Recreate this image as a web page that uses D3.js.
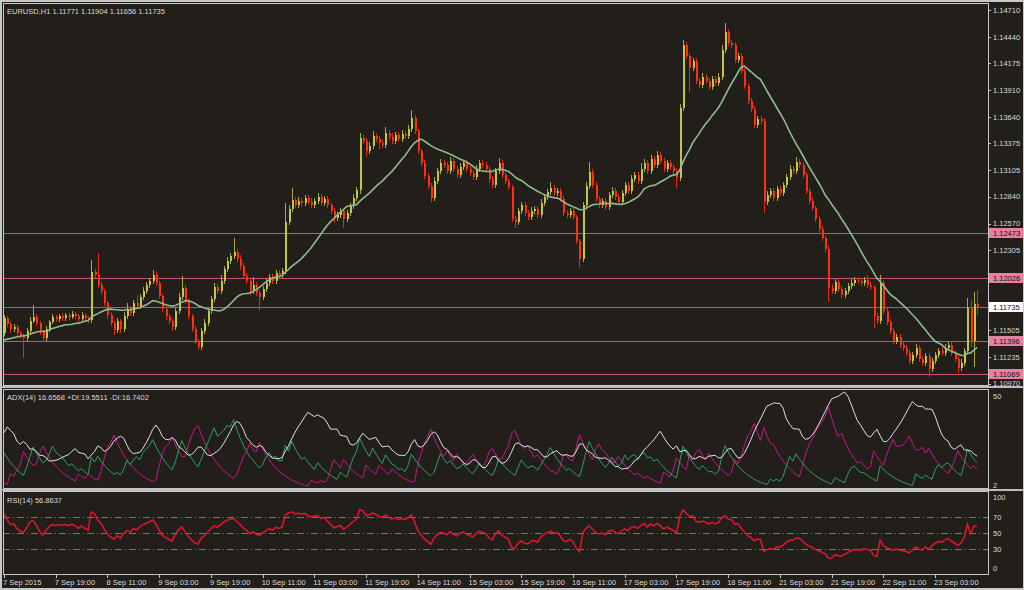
<!DOCTYPE html>
<html>
<head>
<meta charset="utf-8">
<script src="https://cdnjs.cloudflare.com/ajax/libs/d3/7.8.5/d3.min.js"></script>
<style>
  body { margin: 0; background: #c8c8c8; }
  svg { display: block; }
  text { font-family: "Liberation Sans", Arial, sans-serif; font-size: 7.5px; fill: #dadada; }
</style>
</head>
<body>
<div id="chart"></div>
<script>
// prices are kept in pips above 1.1000 (163 -> 1.1163)
// bars before 7 Sep, only needed so the MA / RSI / ADX are warmed up
var priorClose = [128, 131, 127, 124, 129, 133, 130, 134, 138, 135, 132, 136, 139, 137, 134,
  131, 135, 138, 142, 140, 137, 139, 143, 141, 138, 136, 140, 144, 147, 148];
var priorUp = [3, 2, 3, 2, 3, 3, 2, 3, 4, 2, 3, 3, 2, 3, 2, 3, 3, 4, 3, 2, 3, 3, 4, 2, 3, 3, 3, 4, 3, 3];
var priorDown = [2, 3, 3, 3, 2, 3, 3, 2, 3, 3, 3, 2, 3, 3, 3, 3, 2, 3, 3, 3, 3, 2, 3, 3, 3, 2, 3, 3, 3, 3];

// EURUSD H1 closes, 7 Sep 00:00 onwards (open = previous close)
var closes = [
  163, 157, 152, 154, 148, 145, 143, 150, 160, 164,
  158, 149, 143, 152, 159, 164, 162, 165, 163, 166,
  164, 167, 165, 162, 166, 163, 161, 209, 206, 196,
  190, 178, 166, 158, 151, 160, 152, 165, 172, 168,
  178, 175, 184, 190, 196, 200, 206, 198, 185, 172,
  165, 160, 154, 170, 184, 193, 180, 165, 152, 140,
  134, 150, 158, 170, 182, 194, 190, 200, 212, 220,
  225, 229, 222, 215, 205, 200, 190, 196, 188, 184,
  192, 198, 204, 200, 208, 206, 210, 259, 272, 281,
  276, 280, 278, 283, 279, 276, 280, 284, 278, 282,
  276, 270, 263, 266, 270, 262, 268, 275, 283, 291,
  343, 340, 330, 335, 345, 342, 338, 336, 348, 344,
  340, 346, 342, 347, 345, 352, 363, 350, 330, 318,
  305, 295, 283, 300, 310, 318, 316, 310, 320, 312,
  306, 314, 318, 312, 308, 304, 312, 318, 316, 312,
  302, 296, 310, 318, 306, 300, 294, 262, 259, 270,
  276, 268, 264, 270, 272, 266, 278, 284, 289, 293,
  288, 290, 282, 268, 266, 270, 264, 240, 222, 276,
  295, 309, 296, 282, 276, 280, 274, 286, 290, 284,
  279, 288, 296, 290, 302, 306, 300, 312, 318, 310,
  322, 316, 326, 320, 312, 318, 314, 310, 303, 373,
  436, 425, 413, 420, 400, 396, 404, 400, 394, 402,
  398, 404, 431, 449, 438, 436, 421, 425, 410, 395,
  380, 372, 356, 362, 360, 279, 286, 290, 283, 292,
  288, 296, 304, 312, 310, 319, 316, 306, 290, 280,
  273, 262, 252, 243, 232, 193, 190, 199, 192, 186,
  190, 195, 198, 201, 200, 198, 201, 196, 194, 165,
  160, 198, 170, 159, 150, 140, 144, 136, 133, 128,
  120, 126, 133, 122, 118, 125, 112, 120, 126, 130,
  128, 133, 136, 128, 122, 113, 118, 130, 173, 140,
  177.1, 173.5
];

// wick length above / below the body, pips
var wickUp = [
  3, 2, 2, 3, 2, 2, 2, 3, 4, 12,
  3, 2, 2, 3, 2, 3, 2, 2, 3, 2,
  2, 3, 2, 2, 3, 2, 2, 12, 3, 22,
  3, 2, 2, 3, 2, 3, 2, 4, 6, 3,
  3, 8, 3, 4, 3, 3, 5, 3, 2, 2,
  3, 2, 2, 3, 4, 12, 3, 2, 2, 3,
  2, 3, 4, 3, 3, 4, 3, 6, 3, 4,
  3, 14, 3, 4, 3, 3, 3, 8, 3, 3,
  3, 4, 3, 3, 3, 3, 3, 19, 4, 12,
  3, 4, 3, 3, 3, 4, 3, 4, 3, 3,
  3, 2, 3, 3, 3, 2, 3, 3, 4, 3,
  5, 3, 3, 4, 5, 3, 3, 4, 6, 3,
  4, 3, 3, 4, 3, 4, 8, 3, 2, 2,
  3, 3, 3, 4, 3, 4, 3, 3, 4, 3,
  3, 4, 3, 3, 3, 3, 4, 3, 3, 3,
  3, 3, 3, 5, 3, 3, 2, 2, 3, 3,
  3, 3, 3, 4, 3, 3, 4, 3, 3, 6,
  3, 3, 3, 3, 3, 3, 3, 2, 2, 3,
  4, 10, 3, 3, 3, 3, 3, 3, 4, 3,
  3, 3, 3, 3, 4, 3, 3, 6, 4, 3,
  4, 3, 4, 3, 3, 3, 3, 3, 3, 4,
  5, 3, 3, 3, 3, 3, 4, 3, 3, 3,
  3, 4, 5, 9, 3, 3, 3, 3, 3, 3,
  3, 3, 3, 3, 3, 3, 4, 3, 3, 3,
  3, 3, 3, 4, 3, 5, 3, 3, 3, 3,
  3, 2, 3, 3, 2, 3, 4, 3, 3, 3,
  3, 3, 4, 3, 3, 3, 3, 5, 3, 2,
  3, 8, 3, 3, 3, 3, 3, 3, 3, 3,
  3, 3, 4, 3, 3, 3, 3, 3, 3, 3,
  3, 4, 3, 3, 3, 3, 4, 3, 10, 8,
  12, 13.3
];
var wickDown = [
  3, 3, 4, 3, 3, 3, 20, 3, 3, 2,
  3, 3, 4, 3, 3, 2, 3, 3, 3, 3,
  3, 2, 3, 3, 2, 3, 3, 3, 3, 3,
  3, 3, 4, 3, 5, 3, 4, 3, 3, 3,
  3, 3, 3, 3, 3, 3, 3, 3, 3, 3,
  4, 3, 4, 3, 3, 3, 3, 3, 3, 3,
  3, 3, 3, 3, 3, 3, 3, 3, 3, 3,
  3, 3, 3, 4, 3, 3, 4, 3, 3, 13,
  3, 3, 3, 3, 3, 3, 3, 3, 3, 3,
  3, 3, 4, 3, 3, 3, 3, 3, 3, 3,
  3, 3, 5, 3, 3, 9, 3, 3, 3, 3,
  4, 3, 6, 3, 3, 3, 6, 3, 3, 3,
  3, 3, 3, 3, 3, 3, 3, 3, 3, 3,
  3, 3, 4, 3, 3, 3, 3, 3, 3, 3,
  3, 3, 3, 3, 3, 3, 3, 3, 3, 3,
  4, 3, 3, 3, 3, 3, 3, 3, 6, 3,
  3, 3, 3, 3, 3, 3, 3, 3, 3, 3,
  3, 3, 3, 3, 3, 3, 3, 3, 9, 3,
  3, 3, 3, 3, 3, 3, 3, 3, 3, 3,
  3, 3, 3, 3, 3, 3, 3, 3, 3, 3,
  3, 3, 3, 3, 3, 3, 3, 3, 10, 3,
  3, 3, 24, 3, 3, 3, 3, 3, 3, 3,
  3, 3, 3, 3, 3, 3, 3, 3, 3, 3,
  3, 3, 3, 3, 3, 11, 3, 3, 3, 3,
  3, 3, 3, 3, 3, 3, 3, 3, 3, 3,
  3, 3, 3, 3, 3, 14, 3, 3, 3, 3,
  3, 3, 3, 3, 3, 3, 3, 3, 3, 12,
  3, 3, 3, 3, 3, 3, 3, 3, 3, 3,
  3, 3, 3, 3, 3, 3, 8, 3, 3, 3,
  3, 3, 3, 3, 3, 5, 3, 3, 3, 6,
  26, 7.9
];

// one time label every 16 bars
var timeLabels = ["7 Sep 2015", "7 Sep 19:00", "8 Sep 11:00", "9 Sep 03:00", "9 Sep 19:00",
  "10 Sep 11:00", "11 Sep 03:00", "11 Sep 19:00", "14 Sep 11:00", "15 Sep 03:00",
  "15 Sep 19:00", "16 Sep 11:00", "17 Sep 03:00", "17 Sep 19:00", "18 Sep 11:00",
  "21 Sep 03:00", "21 Sep 19:00", "22 Sep 11:00", "23 Sep 03:00"];

// price ticks (the ones hidden under the level labels are left out)
var priceTicks = [1.14710, 1.14440, 1.14175, 1.13910, 1.13640, 1.13375, 1.13105, 1.12840,
  1.12570, 1.12305, 1.11505, 1.11235, 1.10970];
var levelLines = [1.12473, 1.12026, 1.11396, 1.11069];
var lastPrice = 1.11735;
var rsiLevels = [70, 50, 30];
var rsiTicks = [100, 70, 50, 30, 0];
var adxTicks = [50, 2];

var svgWidth = 1024;
var svgHeight = 590;
var plotLeft = 3;
var plotRight = 988;
var mainPanel = {top: 3, bottom: 385};
var adxPanel = {top: 389, bottom: 488};
var rsiPanel = {top: 491, bottom: 574};

// build OHLC bars from the pip arrays
var allClose = priorClose.concat(closes);
var allUp = priorUp.concat(wickUp);
var allDown = priorDown.concat(wickDown);
var bars = allClose.map(function(c, i) {
  var o = i === 0 ? c : allClose[i - 1];
  return {
    open: 1.1 + o / 10000,
    close: 1.1 + c / 10000,
    high: 1.1 + (Math.max(o, c) + allUp[i]) / 10000,
    low: 1.1 + (Math.min(o, c) - allDown[i]) / 10000
  };
});

// indicators, computed the way the terminal does
function calcSMA(values, n) {
  return values.map(function(v, i) {
    if (i < n - 1) return null;
    return d3.mean(values.slice(i - n + 1, i + 1));
  });
}

function calcRSI(cl, n) {
  var out = cl.map(function() { return null; });
  var gain = 0, loss = 0, ch, i;
  for (i = 1; i <= n; i++) {
    ch = cl[i] - cl[i - 1];
    if (ch > 0) gain += ch; else loss -= ch;
  }
  gain /= n;
  loss /= n;
  out[n] = loss === 0 ? 100 : 100 - 100 / (1 + gain / loss);
  for (i = n + 1; i < cl.length; i++) {
    ch = cl[i] - cl[i - 1];
    gain = (gain * (n - 1) + Math.max(ch, 0)) / n;
    loss = (loss * (n - 1) + Math.max(-ch, 0)) / n;
    out[i] = loss === 0 ? 100 : 100 - 100 / (1 + gain / loss);
  }
  return out;
}

function calcADX(b, n) {
  var k = 2 / (n + 1);
  var pdi = 0, mdi = 0, adx = 0;
  var out = [{adx: 0, pdi: 0, mdi: 0}];
  for (var i = 1; i < b.length; i++) {
    var pdm = Math.max(b[i].high - b[i - 1].high, 0);
    var mdm = Math.max(b[i - 1].low - b[i].low, 0);
    if (Math.abs(pdm - mdm) < 1e-9) { pdm = 0; mdm = 0; }
    else if (pdm < mdm) pdm = 0;
    else mdm = 0;
    var tr = Math.max(b[i].high - b[i].low, Math.abs(b[i].high - b[i - 1].close), Math.abs(b[i].low - b[i - 1].close));
    var p = tr === 0 ? 0 : 100 * pdm / tr;
    var m = tr === 0 ? 0 : 100 * mdm / tr;
    if (i === 1) { pdi = p; mdi = m; }
    else { pdi += k * (p - pdi); mdi += k * (m - mdi); }
    var dx = (pdi + mdi) === 0 ? 0 : 100 * Math.abs(pdi - mdi) / (pdi + mdi);
    adx = i === 1 ? dx : adx + k * (dx - adx);
    out.push({adx: adx, pdi: pdi, mdi: mdi});
  }
  return out;
}

var skip = priorClose.length;
var closePrices = bars.map(function(d) { return d.close; });
var ma = calcSMA(closePrices, 20).slice(skip);
var rsi = calcRSI(closePrices, 14).slice(skip);
var adx = calcADX(bars, 14).slice(skip);
var visible = bars.slice(skip);

// scales
var xScale = d3.scaleLinear()
  .domain([0, closes.length - 1])
  .range([4, 4 + (closes.length - 1) * 3.233]);

var yPrice = d3.scaleLinear()
  .domain([1.10970, 1.14710])
  .range([383.5, 10]);

var adxMin = d3.min(adx, d => Math.min(d.adx, d.pdi, d.mdi));
var adxMax = d3.max(adx, d => Math.max(d.adx, d.pdi, d.mdi));
var yAdx = d3.scaleLinear()
  .domain([adxMin, adxMax])
  .range([adxPanel.bottom - 2, adxPanel.top + 3]);

var yRsi = d3.scaleLinear()
  .domain([0, 100])
  .range([rsiPanel.bottom - 1, rsiPanel.top + 2]);

var svg = d3.select("#chart")
  .append("svg")
  .attr("width", svgWidth)
  .attr("height", svgHeight);

// window background and splitters
svg.append("rect")
  .attr("width", svgWidth)
  .attr("height", svgHeight)
  .attr("fill", "#c8c8c8");
svg.append("rect")
  .attr("x", 2).attr("y", 2)
  .attr("width", svgWidth - 3).attr("height", svgHeight - 4)
  .attr("fill", "#221e19");
[386, 489].forEach(function(y) {
  svg.append("rect")
    .attr("x", 0).attr("y", y)
    .attr("width", svgWidth).attr("height", 2)
    .attr("fill", "#bdbdbd");
});

// clip paths per panel
[["clipMain", mainPanel], ["clipAdx", adxPanel], ["clipRsi", rsiPanel]].forEach(function(c) {
  svg.append("clipPath").attr("id", c[0])
    .append("rect")
    .attr("x", plotLeft + 1).attr("y", c[1].top + 1)
    .attr("width", plotRight - plotLeft - 1).attr("height", c[1].bottom - c[1].top - 1);
});

// panel frames
[mainPanel, adxPanel, rsiPanel].forEach(function(p) {
  svg.append("rect")
    .attr("x", plotLeft + 0.5).attr("y", p.top + 0.5)
    .attr("width", plotRight - plotLeft).attr("height", p.bottom - p.top)
    .attr("fill", "none")
    .attr("stroke", "#c8c8c8")
    .attr("stroke-width", 1);
});

// ---------- main panel ----------
var mainGroup = svg.append("g").attr("clip-path", "url(#clipMain)");

// horizontal levels
mainGroup.selectAll(".level")
  .data(levelLines)
  .enter()
  .append("line")
  .attr("x1", plotLeft).attr("x2", plotRight)
  .attr("y1", d => Math.round(yPrice(d)) + 0.5)
  .attr("y2", d => Math.round(yPrice(d)) + 0.5)
  .attr("stroke", "#c8507e")
  .attr("stroke-width", 1);

mainGroup.append("line")
  .attr("x1", plotLeft).attr("x2", plotRight)
  .attr("y1", Math.round(yPrice(lastPrice)) + 0.5)
  .attr("y2", Math.round(yPrice(lastPrice)) + 0.5)
  .attr("stroke", "#777777")
  .attr("stroke-width", 1);

// candles
var candles = mainGroup.selectAll(".candle")
  .data(visible)
  .enter()
  .append("g")
  .attr("shape-rendering", "crispEdges");

candles.append("line")
  .attr("x1", (d, i) => Math.round(xScale(i)) + 0.5)
  .attr("x2", (d, i) => Math.round(xScale(i)) + 0.5)
  .attr("y1", d => yPrice(d.high))
  .attr("y2", d => yPrice(d.low))
  .attr("stroke", d => d.close >= d.open ? "#a9ab3f" : "#e02a14")
  .attr("stroke-width", 1);

candles.append("rect")
  .attr("x", (d, i) => Math.round(xScale(i)))
  .attr("width", 2)
  .attr("y", d => yPrice(Math.max(d.open, d.close)))
  .attr("height", d => Math.max(1, Math.abs(yPrice(d.open) - yPrice(d.close))))
  .attr("fill", d => d.close >= d.open ? "#c4c64c" : "#ff2e14");

// moving average
var maLine = d3.line()
  .defined(d => d !== null)
  .x((d, i) => xScale(i))
  .y(d => yPrice(d));

mainGroup.append("path")
  .datum(ma)
  .attr("d", maLine)
  .attr("fill", "none")
  .attr("stroke", "#8fbc8f")
  .attr("stroke-width", 1.6);

// price axis
var priceAxis = svg.append("g");
priceAxis.selectAll("line")
  .data(priceTicks)
  .enter()
  .append("line")
  .attr("x1", plotRight).attr("x2", plotRight + 3)
  .attr("y1", d => Math.round(yPrice(d)) + 0.5)
  .attr("y2", d => Math.round(yPrice(d)) + 0.5)
  .attr("stroke", "#c8c8c8");
priceAxis.selectAll("text")
  .data(priceTicks)
  .enter()
  .append("text")
  .attr("x", plotRight + 5)
  .attr("y", d => yPrice(d) + 2.7)
  .text(d => d3.format(".5f")(d));

// level labels on the axis
var levelLabels = svg.selectAll(".levelLabel")
  .data(levelLines.map(d => ({v: d, bg: "#e5829f"})).concat([{v: lastPrice, bg: "#ffffff"}]))
  .enter()
  .append("g");
levelLabels.append("rect")
  .attr("x", plotRight + 1)
  .attr("y", d => Math.round(yPrice(d.v)) - 5)
  .attr("width", svgWidth - plotRight - 2)
  .attr("height", 10)
  .attr("fill", d => d.bg);
levelLabels.append("text")
  .attr("x", plotRight + 5)
  .attr("y", d => Math.round(yPrice(d.v)) + 3)
  .style("fill", "#111111")
  .text(d => d3.format(".5f")(d.v));

svg.append("text")
  .attr("x", 7).attr("y", 14)
  .text("EURUSD,H1  1.11771 1.11904 1.11656 1.11735");

// ---------- ADX panel ----------
var adxGroup = svg.append("g").attr("clip-path", "url(#clipAdx)");
var adxSeries = [["mdi", "#c8178a"], ["pdi", "#2f9e6c"], ["adx", "#e2e2e2"]];
adxSeries.forEach(function(s) {
  adxGroup.append("path")
    .datum(adx)
    .attr("d", d3.line().x((d, i) => xScale(i)).y(d => yAdx(d[s[0]])))
    .attr("fill", "none")
    .attr("stroke", s[1])
    .attr("stroke-width", 1);
});
svg.append("text")
  .attr("x", 7).attr("y", 400)
  .text("ADX(14) 16.6568 +DI:19.5511 -DI:16.7402");
// the terminal prints the window max / min at the top and bottom edges
svg.selectAll(".adxTick")
  .data(adxTicks)
  .enter()
  .append("text")
  .attr("x", plotRight + 5)
  .attr("y", (d, i) => (i === 0 ? yAdx(adxMax) + 4 : yAdx(adxMin) - 1) + 2.7)
  .text(d => d);

// ---------- RSI panel ----------
var rsiGroup = svg.append("g").attr("clip-path", "url(#clipRsi)");
rsiGroup.selectAll(".rsiLevel")
  .data(rsiLevels)
  .enter()
  .append("line")
  .attr("x1", plotLeft).attr("x2", plotRight)
  .attr("y1", d => Math.round(yRsi(d)) + 0.5)
  .attr("y2", d => Math.round(yRsi(d)) + 0.5)
  .attr("stroke", "#66806a")
  .attr("stroke-dasharray", "7,3,1,3");
rsiGroup.append("path")
  .datum(rsi)
  .attr("d", d3.line().defined(d => d !== null).x((d, i) => xScale(i)).y(d => yRsi(d)))
  .attr("fill", "none")
  .attr("stroke", "#e5142e")
  .attr("stroke-width", 1.5);
svg.append("text")
  .attr("x", 7).attr("y", 503)
  .text("RSI(14) 56.8637");
svg.selectAll(".rsiTick")
  .data(rsiTicks)
  .enter()
  .append("text")
  .attr("x", plotRight + 5)
  .attr("y", d => Math.min(Math.max(yRsi(d), rsiPanel.top + 6), rsiPanel.bottom - 6) + 2.7)
  .text(d => d);

// ---------- time axis ----------
var timeAxis = svg.append("g");
timeAxis.selectAll("line")
  .data(timeLabels)
  .enter()
  .append("line")
  .attr("x1", (d, i) => Math.round(xScale(i * 16)) + 0.5)
  .attr("x2", (d, i) => Math.round(xScale(i * 16)) + 0.5)
  .attr("y1", rsiPanel.bottom)
  .attr("y2", rsiPanel.bottom + 4)
  .attr("stroke", "#c8c8c8");
timeAxis.selectAll("text")
  .data(timeLabels)
  .enter()
  .append("text")
  .attr("x", (d, i) => xScale(i * 16) - 1)
  .attr("y", 585)
  .text(d => d);
</script>
</body>
</html>
